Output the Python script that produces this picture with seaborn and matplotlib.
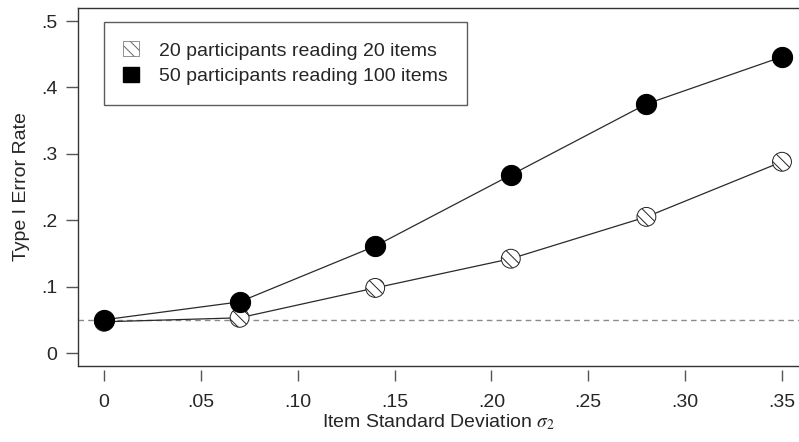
import matplotlib
matplotlib.use("Agg")
import matplotlib.pyplot as plt
from matplotlib.patches import Patch
import seaborn as sns
import pandas as pd

# Simulation results: Type I error rate vs item standard deviation
item_sd = [0.0, 0.07, 0.14, 0.21, 0.28, 0.35]
err_20x20 = [0.047, 0.053, 0.098, 0.142, 0.205, 0.288]
err_50x100 = [0.050, 0.077, 0.161, 0.268, 0.375, 0.446]
labels = ["20 participants reading 20 items", "50 participants reading 100 items"]
nominal_alpha = 0.05

x_ticks = [0, 0.05, 0.10, 0.15, 0.20, 0.25, 0.30, 0.35]
x_ticklabels = ["0", ".05", ".10", ".15", ".20", ".25", ".30", ".35"]
y_ticks = [0, 0.1, 0.2, 0.3, 0.4, 0.5]
y_ticklabels = ["0", ".1", ".2", ".3", ".4", ".5"]

df = pd.DataFrame({
    "sd": item_sd * 2,
    "err": err_20x20 + err_50x100,
    "design": [labels[0]] * len(item_sd) + [labels[1]] * len(item_sd),
})

sns.set_style("ticks")
plt.rcParams["font.family"] = ["Liberation Sans", "DejaVu Sans"]
plt.rcParams["mathtext.fontset"] = "stix"
plt.rcParams["hatch.linewidth"] = 0.7

FS = 14
W, H = 799, 442
fig = plt.figure(figsize=(W / 100, H / 100), dpi=100)
left, right, top, bottom = 78, 799, 8, 366
ax = fig.add_axes([left / W, 1 - bottom / H, (right - left) / W, (bottom - top) / H])

ax.axhline(nominal_alpha, color="#8a8a8a", lw=1.0, ls=(0, (4, 3)), zorder=1)

sns.lineplot(data=df, x="sd", y="err", hue="design", palette=["#2a2a2a", "#2a2a2a"],
             lw=0.9, legend=False, ax=ax, zorder=2)

sub1 = df[df["design"] == labels[0]]
sub2 = df[df["design"] == labels[1]]
ax.scatter(sub1["sd"], sub1["err"], s=185, facecolor="white", edgecolor="#222222",
           hatch="\\\\\\", linewidth=0.7, zorder=3)
ax.scatter(sub2["sd"], sub2["err"], s=210, facecolor="black", edgecolor="black",
           linewidth=0.8, zorder=4)

ax.set_xlim(-26 / 1937.1, (right - 104) / 1937.1)
ax.set_ylim((353 - bottom) / 664.0, (353 - top) / 664.0)

ax.set_xticks(x_ticks)
ax.set_xticklabels(x_ticklabels)
ax.set_yticks(y_ticks)
ax.set_yticklabels(y_ticklabels)

for s in ["left", "top"]:
    ax.spines[s].set_color("#333333")
    ax.spines[s].set_linewidth(1.0)
ax.spines["right"].set_visible(False)
# detached x ticks below the frame
ax.spines["bottom"].set_position(("outward", 3))
ax.spines["bottom"].set_visible(False)
ax.plot([0, 1], [0, 0], transform=ax.transAxes, color="#333333", lw=1.0,
        clip_on=False, zorder=5)

ax.tick_params(axis="y", length=9, width=1.0, color="#555555", pad=6, labelsize=FS)
ax.tick_params(axis="x", length=8, width=1.0, color="#555555", pad=9, labelsize=FS)

ax.set_ylabel("Type I Error Rate", fontsize=FS, labelpad=8)
ax.set_xlabel(r"Item Standard Deviation $\sigma_2$", fontsize=FS, labelpad=1)

handles = [
    Patch(facecolor="white", edgecolor="#666666", hatch="\\\\\\", linewidth=0.5),
    Patch(facecolor="black", edgecolor="black"),
]
leg = ax.legend(handles, labels, loc="upper left",
                bbox_to_anchor=(104 / W, 1 - 22 / H), bbox_transform=fig.transFigure,
                fontsize=FS, frameon=True, fancybox=False, edgecolor="#333333",
                handlelength=0.78, handleheight=0.78, handletextpad=1.05,
                borderpad=1.0, labelspacing=0.4, borderaxespad=0)
leg.get_frame().set_linewidth(1.0)

fig.savefig("out.png", dpi=100)
